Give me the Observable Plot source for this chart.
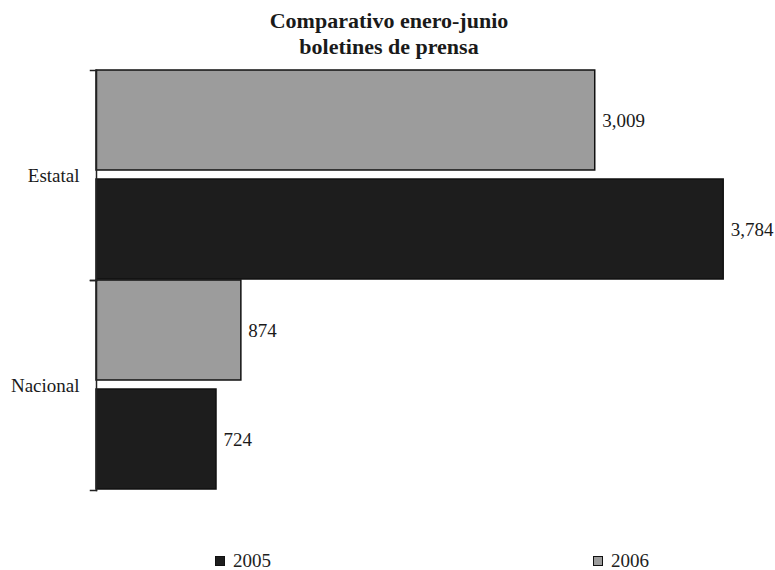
<!DOCTYPE html>
<html>
<head>
<meta charset="utf-8">
<script src="https://cdn.jsdelivr.net/npm/d3@7"></script>
<script src="https://cdn.jsdelivr.net/npm/@observablehq/plot@0.6"></script>
<style>
  html, body { margin: 0; padding: 0; background: #fff; }
  #wrap { position: relative; width: 775px; height: 570px; font-family: "Liberation Serif", "Times New Roman", serif; color: #1a1a1a; }
  #title { position: absolute; left: 0; top: 8px; width: 778px; text-align: center; font-weight: bold; font-size: 22px; line-height: 26px; }
  #chart { position: absolute; left: 0; top: 60px; }
  .leg { position: absolute; top: 550px; font-size: 19px; display: flex; align-items: center; color: #222; }
  .sw { display: inline-block; box-sizing: border-box; width: 10px; height: 10px; border: 1.5px solid #111; margin-right: 8px; }
</style>
</head>
<body>
<div id="wrap">
  <div id="title">Comparativo enero-junio<br>boletines de prensa</div>
  <div id="chart"></div>
  <div id="legend"></div>
</div>
<script>
const categories = ["Estatal", "Nacional"];
const years = ["2006", "2005"];
const values2005 = [3784, 724];
const values2006 = [3009, 874];
const legendYears = ["2005", "2006"];
const colors = ["#1d1d1d", "#9c9c9c"];

const rows = [];
categories.forEach((c, i) => {
  rows.push({category: c, year: "2006", value: values2006[i]});
  rows.push({category: c, year: "2005", value: values2005[i]});
});

const W = 775, ML = 96, MR = 16;
const chart = Plot.plot({
  width: W,
  height: 440,
  marginLeft: ML,
  marginRight: MR,
  marginTop: 9,
  marginBottom: 10,
  style: {fontFamily: "Liberation Serif, Times New Roman, serif", fontSize: "19px", color: "#1a1a1a", background: "transparent"},
  x: {domain: [0, 4000], axis: null},
  y: {domain: years, paddingInner: 0.08, paddingOuter: 0, axis: null},
  fy: {domain: categories, padding: 0, axis: "left", label: null, tickSize: 0, tickPadding: 17},
  color: {domain: legendYears, range: colors},
  marks: [
    Plot.barX(rows, {x: "value", y: "year", fy: "category", fill: "year", stroke: "#111", strokeWidth: 1.5}),
    Plot.text(rows, {x: "value", y: "year", fy: "category", text: d => d3.format(",")(d.value), dx: 7, textAnchor: "start", fontSize: 19, fill: "#1a1a1a"}),
    Plot.frame({anchor: "left", stroke: "#222", strokeWidth: 1.5}),
    Plot.frame({anchor: "top", stroke: "#222", strokeWidth: 1.5, insetLeft: -6, insetRight: W - ML - MR}),
    Plot.frame({anchor: "bottom", stroke: "#222", strokeWidth: 1.5, insetLeft: -6, insetRight: W - ML - MR})
  ]
});
document.getElementById("chart").appendChild(chart);

const legend = document.getElementById("legend");
const legendX = [215, 593];
legendYears.forEach((y, i) => {
  const d = document.createElement("div");
  d.className = "leg";
  d.style.left = legendX[i] + "px";
  d.innerHTML = `<span class="sw" style="background:${colors[i]}"></span>${y}`;
  legend.appendChild(d);
});
</script>
</body>
</html>
